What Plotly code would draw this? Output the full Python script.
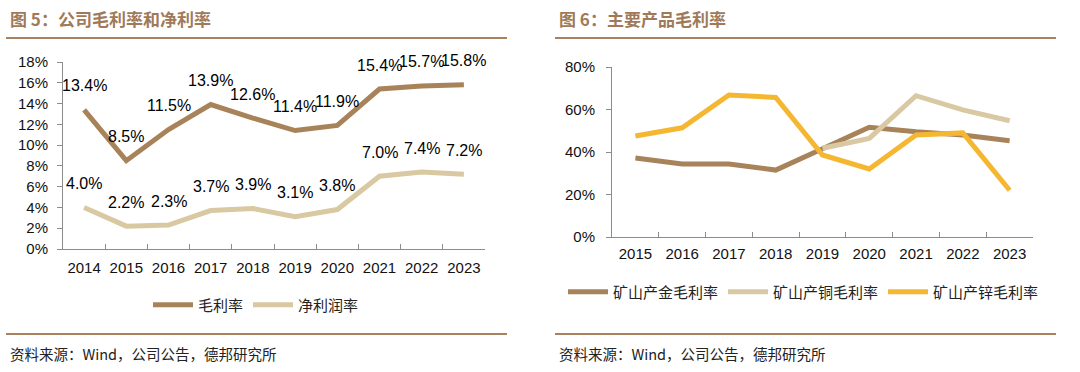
import plotly.graph_objects as go

# ---------------- data ----------------
years_left = ["2014", "2015", "2016", "2017", "2018", "2019", "2020", "2021", "2022", "2023"]
gross_margin = [13.4, 8.5, 11.5, 13.9, 12.6, 11.4, 11.9, 15.4, 15.7, 15.8]
net_margin = [4.0, 2.2, 2.3, 3.7, 3.9, 3.1, 3.8, 7.0, 7.4, 7.2]

years_right = ["2015", "2016", "2017", "2018", "2019", "2020", "2021", "2022", "2023"]
gold_margin = [37.2, 34.4, 34.4, 31.5, 41.5, 51.6, 49.5, 48.0, 45.3]
copper_margin = [None, None, None, None, 41.8, 46.4, 66.5, 59.8, 54.7]
zinc_margin = [47.5, 51.4, 66.8, 65.7, 38.6, 32.0, 48.0, 49.0, 22.0]

title_left = "图 5：公司毛利率和净利率"
title_right = "图 6：主要产品毛利率"
source_text = "资料来源：Wind，公司公告，德邦研究所"

# ---------------- style ----------------
W, H = 1080, 372
C_GROSS = "#a8835a"
C_NET = "#d9c9a2"
C_GOLD = "#a8835a"
C_COPPER = "#d9c9a2"
C_ZINC = "#f5b731"
C_RULE = "#a8825e"
C_TITLE = "#a07a58"
NUM_FONT = "Liberation Sans, Arial, sans-serif"
CJK_FONT = "Noto Sans CJK SC, sans-serif"


def px(x):
    return x / W


def py(y):
    return 1 - y / H


fig = go.Figure()

fig.add_trace(go.Scatter(x=years_left, y=gross_margin, mode="lines", name="毛利率",
                         line=dict(color=C_GROSS, width=5), xaxis="x", yaxis="y", legend="legend"))
fig.add_trace(go.Scatter(x=years_left, y=net_margin, mode="lines", name="净利润率",
                         line=dict(color=C_NET, width=5), xaxis="x", yaxis="y", legend="legend"))

fig.add_trace(go.Scatter(x=years_right, y=gold_margin, mode="lines", name="矿山产金毛利率",
                         line=dict(color=C_GOLD, width=5), xaxis="x2", yaxis="y2", legend="legend2"))
fig.add_trace(go.Scatter(x=years_right, y=copper_margin, mode="lines", name="矿山产铜毛利率",
                         line=dict(color=C_COPPER, width=5), xaxis="x2", yaxis="y2", legend="legend2"))
fig.add_trace(go.Scatter(x=years_right, y=zinc_margin, mode="lines", name="矿山产锌毛利率",
                         line=dict(color=C_ZINC, width=5), xaxis="x2", yaxis="y2", legend="legend2"))

annotations = []
for series in (gross_margin, net_margin):
    for i, v in enumerate(series):
        annotations.append(dict(x=i, y=v, xref="x", yref="y", text=f"{v:.1f}%", showarrow=False,
                                yshift=24, font=dict(family=NUM_FONT, size=16, color="#000000")))

# titles and source
for x0, t in ((8, title_left), (557, title_right)):
    annotations.append(dict(x=px(x0), y=py(19), xref="paper", yref="paper", xanchor="left", yanchor="middle",
                            text=f"<b>{t}</b>", showarrow=False,
                            font=dict(family=CJK_FONT, size=17, color=C_TITLE)))
for x0 in (8, 557):
    annotations.append(dict(x=px(x0), y=py(353), xref="paper", yref="paper", xanchor="left", yanchor="middle",
                            text=source_text, showarrow=False,
                            font=dict(family=CJK_FONT, size=14.5, color="#222222")))

shapes = []
for (x0, x1) in ((6, 507), (555, 1056)):
    for yy in (38, 334):
        shapes.append(dict(type="line", xref="paper", yref="paper", x0=px(x0), x1=px(x1), y0=py(yy), y1=py(yy),
                           line=dict(color=C_RULE, width=2)))

axis_common = dict(showgrid=False, zeroline=False, showline=True, linecolor="#8c8c8c", linewidth=1,
                   tickfont=dict(family=NUM_FONT, size=15, color="#111111"), tickcolor="#8c8c8c",
                   automargin=False)

fig.update_layout(
    width=W, height=H,
    margin=dict(l=0, r=0, t=0, b=0, autoexpand=False),
    paper_bgcolor="white", plot_bgcolor="white",
    showlegend=True,
    xaxis=dict(domain=[px(63), px(485)], anchor="y", type="category", range=[-0.5, 9.5], ticks="inside",
               ticklen=5, tickson="boundaries", tickangle=0, ticklabelstandoff=5, **axis_common),
    yaxis=dict(domain=[py(249), py(62)], anchor="x", range=[0, 18], dtick=2, ticksuffix="%",
               ticks="outside", ticklen=5, ticklabelstandoff=6, **axis_common),
    xaxis2=dict(domain=[px(612), px(1033)], anchor="y2", type="category", range=[-0.5, 8.5], ticks="inside",
                ticklen=5, tickson="boundaries", tickangle=0, ticklabelstandoff=3, **axis_common),
    yaxis2=dict(domain=[py(237), py(67)], anchor="x2", range=[0, 80], dtick=20, ticksuffix="%",
                ticks="outside", ticklen=5, ticklabelstandoff=8, **axis_common),
    legend=dict(orientation="h", x=px(148), y=py(305), xanchor="left", yanchor="middle",
                font=dict(family=CJK_FONT, size=15, color="#222222"), bgcolor="rgba(0,0,0,0)",
                itemwidth=40),
    legend2=dict(orientation="h", x=px(563), y=py(292), xanchor="left", yanchor="middle",
                 font=dict(family=CJK_FONT, size=15, color="#222222"), bgcolor="rgba(0,0,0,0)",
                 itemwidth=40),
    annotations=annotations,
    shapes=shapes,
)

fig.write_html("out.html", config={"displayModeBar": False},
               post_script="document.body.style.margin='0';")
